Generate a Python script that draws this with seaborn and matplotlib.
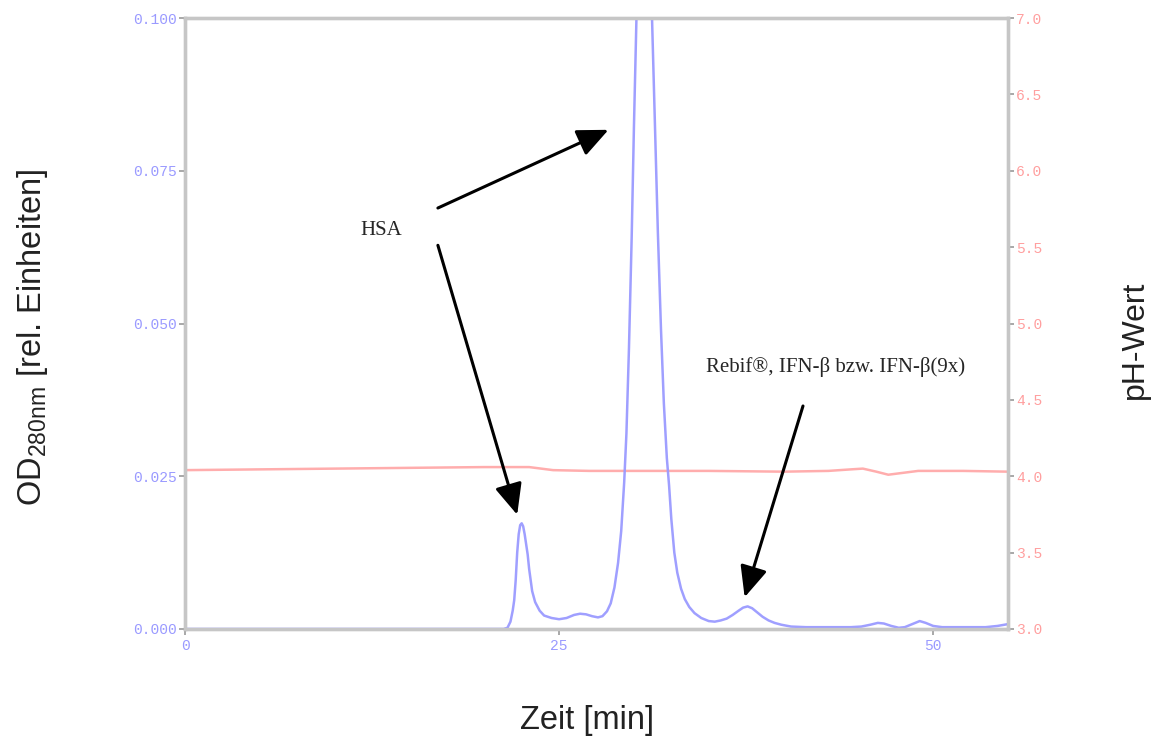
import matplotlib
matplotlib.use("Agg")
import matplotlib.pyplot as plt
import seaborn as sns
import pandas as pd

# Absorbance trace (OD 280 nm) over elution time
time_od = [0, 5, 10, 15, 20, 21.3, 21.55, 21.75, 21.9, 22.0, 22.1, 22.2, 22.3, 22.4, 22.5,
           22.6, 22.7, 22.9, 23.0, 23.2, 23.4, 23.7, 24.0, 24.5, 25.0, 25.5, 26.0, 26.4,
           26.8, 27.2, 27.6, 27.9, 28.2, 28.45, 28.7, 28.94, 29.15, 29.35, 29.5, 29.67,
           29.85, 30.0, 30.17, 30.45, 30.7, 30.95, 31.21, 31.4, 31.6, 31.81, 32.0, 32.2,
           32.35, 32.5, 32.7, 32.9, 33.15, 33.4, 33.7, 34.05, 34.5, 35.0, 35.4, 35.8, 36.2,
           36.6, 37.0, 37.3, 37.6, 37.9, 38.2, 38.6, 39.0, 39.4, 39.85, 40.5, 41.5, 43, 44.5,
           45.2, 45.8, 46.3, 46.7, 47.2, 47.7, 48.1, 48.6, 49.1, 49.5, 50.0, 50.6, 52, 53.5,
           54.3, 55]
od_280 = [0.0, 0.0, 0.0, 0.0, 0.0, 0.0, 0.0002, 0.0012, 0.0030, 0.0047, 0.0080, 0.0125,
          0.0155, 0.0170, 0.0173, 0.0168, 0.0155, 0.0122, 0.0098, 0.0062, 0.0044, 0.0030,
          0.0022, 0.0018, 0.0016, 0.0018, 0.0023, 0.0025, 0.0024, 0.0021, 0.0019, 0.0021,
          0.0029, 0.0042, 0.0068, 0.0108, 0.0160, 0.0240, 0.0320, 0.0460, 0.0640, 0.0820,
          0.1000, 0.1210, 0.1290, 0.1210, 0.1000, 0.0830, 0.0650, 0.0490, 0.0370, 0.0280,
          0.0235, 0.0180, 0.0125, 0.0092, 0.0066, 0.0049, 0.0036, 0.0026, 0.0018, 0.0013,
          0.0012, 0.0014, 0.0017, 0.0023, 0.0030, 0.0035, 0.0037, 0.0034, 0.0028, 0.0020,
          0.0014, 0.0010, 0.0007, 0.0004, 0.0003, 0.0003, 0.0003, 0.0004, 0.0007, 0.0010,
          0.0009, 0.0005, 0.0002, 0.0003, 0.0008, 0.0013, 0.0010, 0.0005, 0.0003, 0.0003,
          0.0003, 0.0005, 0.0008]

# pH of the eluate
time_ph = [0, 5, 10, 15, 20, 23.0, 23.8, 24.6, 27, 30, 35, 40, 43, 44.5, 45.3, 46.2,
           47.0, 47.8, 49, 52, 55]
ph_value = [4.04, 4.045, 4.05, 4.055, 4.06, 4.06, 4.05, 4.04, 4.035, 4.035, 4.035, 4.03,
            4.035, 4.045, 4.05, 4.03, 4.01, 4.02, 4.035, 4.035, 4.03]

od_ticks = [0.0, 0.025, 0.05, 0.075, 0.1]
od_tick_labels = ["0.000", "0.025", "0.050", "0.075", "0.100"]
ph_ticks = [3.0, 3.5, 4.0, 4.5, 5.0, 5.5, 6.0, 6.5, 7.0]
ph_tick_labels = ["3.0", "3.5", "4.0", "4.5", "5.0", "5.5", "6.0", "6.5", "7.0"]
time_ticks = [0, 25, 50]
time_tick_labels = ["0", "25", "50"]

sns.set_style("white")
plt.rcParams["font.family"] = ["Liberation Sans", "DejaVu Sans"]

BLUE = "#9a9aff"
RED = "#ff9f9f"
SPINE = "#c6c6c6"

df_od = pd.DataFrame({"t": time_od, "od": od_280})
df_ph = pd.DataFrame({"t": time_ph, "ph": ph_value})

fig = plt.figure(figsize=(11.6, 7.4), dpi=100)
ax = fig.add_axes([185 / 1160, 111 / 740, 823 / 1160, 611 / 740])
ax2 = ax.twinx()

sns.lineplot(data=df_ph, x="t", y="ph", ax=ax2, color=RED, lw=1.8, alpha=0.85)
sns.lineplot(data=df_od, x="t", y="od", ax=ax, color=BLUE, lw=1.8, alpha=0.95)

# keep the absorbance trace and the annotations above the pH trace
ax.set_zorder(ax2.get_zorder() + 1)
ax.patch.set_visible(False)

ax.set_xlim(0, 55)
ax.set_ylim(0, 0.1)
ax2.set_ylim(3.0, 7.0)

mono = "Liberation Mono"
ax.set_xticks(time_ticks)
ax.set_xticklabels(time_tick_labels, family=mono, fontsize=10.5, color=BLUE)
ax.set_yticks(od_ticks)
ax.set_yticklabels(od_tick_labels, family=mono, fontsize=10.5, color=BLUE)
ax2.set_yticks(ph_ticks)
ax2.set_yticklabels(ph_tick_labels, family=mono, fontsize=10.5, color=RED)

for a in (ax, ax2):
    a.tick_params(axis="both", length=4, width=1.2, color="#999999", pad=2)
    for s in a.spines.values():
        s.set_color(SPINE)
        s.set_linewidth(2.4)
ax.tick_params(axis="x", bottom=True, pad=3)
ax.tick_params(axis="y", left=True)
ax2.tick_params(axis="y", right=True)

ax.set_xlabel("")
ax.set_ylabel("")
ax2.set_ylabel("")

fig.text(587 / 1160, 1 - 721 / 740, "Zeit [min]", ha="center", va="center",
         fontsize=23.5, color="#222222")
fig.text(33 / 1160, 1 - 337 / 740, r"OD$_{\mathregular{280nm}}$ [rel. Einheiten]",
         ha="center", va="center", rotation=90, fontsize=23.5, color="#222222")
fig.text(1135 / 1160, 1 - 340 / 740, "pH-Wert", ha="center", va="center",
         rotation=90, fontsize=23, color="#222222")

serif = ["Liberation Serif", "DejaVu Serif"]
arrow = dict(arrowstyle="-|>,head_length=1.35,head_width=0.6", color="black",
             lw=2.2, mutation_scale=14, shrinkA=0, shrinkB=0)

ax.text(13.1, 0.0653, "HSA", ha="center", va="center", fontsize=15, family=serif)
ax.annotate("", xy=(28.3, 0.0817), xytext=(16.9, 0.0689), arrowprops=arrow)
ax.annotate("", xy=(22.2, 0.0187), xytext=(16.9, 0.0628), arrowprops=arrow)

ax.text(43.5, 0.0429, "Rebif®, IFN-β bzw. IFN-β(9x)", ha="center", va="center",
        fontsize=15, family=serif)
ax.annotate("", xy=(37.4, 0.0052), xytext=(41.3, 0.0365), arrowprops=arrow)

fig.savefig("out.png", dpi=100, facecolor="white")
